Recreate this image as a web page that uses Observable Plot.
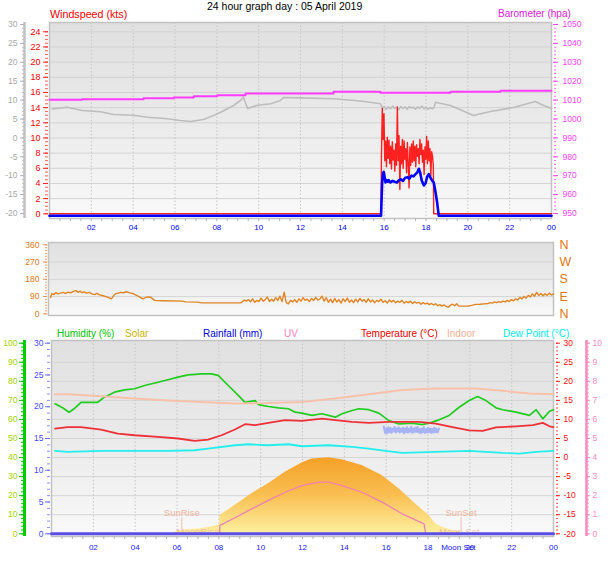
<!DOCTYPE html>
<html><head><meta charset="utf-8">
<script src="https://cdn.jsdelivr.net/npm/d3@7"></script>
<script src="https://cdn.jsdelivr.net/npm/@observablehq/plot@0.6"></script>
<style>
body{margin:0;background:#fff;font-family:"Liberation Sans",Arial,sans-serif;}
#root{position:relative;width:608px;height:561px;overflow:hidden;background:#fff;}
.layer{position:absolute;left:0;}
.layer svg{background:transparent !important;display:block;}
.lbl{position:absolute;white-space:nowrap;}
</style></head>
<body>
<svg width="0" height="0" style="position:absolute">
<defs>
<linearGradient id="bgGrad" x1="0" y1="0" x2="0" y2="1">
<stop offset="0" stop-color="#e0e0e0"/><stop offset="0.45" stop-color="#e9e9e9"/><stop offset="1" stop-color="#f9f9f9"/>
</linearGradient>
<linearGradient id="sunGrad" x1="0" y1="0" x2="0" y2="1">
<stop offset="0" stop-color="#f5a028"/><stop offset="0.5" stop-color="#f9bf52"/><stop offset="1" stop-color="#fff0a0"/>
</linearGradient>
</defs>
</svg>
<div id="root"></div>
<script>
// ---------- tick labels ----------
const hourTicks = [2,4,6,8,10,12,14,16,18,20,22,24];
const hourLabels = ["02","04","06","08","10","12","14","16","18","20","22","00"];
const windTicks = [0,2,4,6,8,10,12,14,16,18,20,22,24];
const grayTicks = [-20,-15,-10,-5,0,5,10,15,20,25,30];
const baroTicks = [950,960,970,980,990,1000,1010,1020,1030,1040,1050];
const dirTicks = [0,90,180,270,360];
const compassLabels = ["N","E","S","W","N"];
const humTicks = [0,10,20,30,40,50,60,70,80,90,100];
const rainTicks = [0,5,10,15,20,25,30];
const tempTicks = [-20,-15,-10,-5,0,5,10,15,20,25,30];
const uvTicks = [0,1,2,3,4,5,6,7,8,9,10];

// ---------- data: [hour, value] ----------
const pressure = [[0,1010.2],[1.56,1010.5],[4.5,1011.0],[5.94,1011.4],[6.9,1012.1],[8.02,1012.6],[9.37,1013.5],[13.58,1014.4],[15.82,1013.9],[19.17,1014.4],[21.56,1014.9],[24,1014.9]];

const tempTrace = [[0.13,7.65],[0.85,8.12],[1.56,7.25],[2.44,6.9],[3.06,6.19],[4.02,6.0],[4.69,5.48],[5.64,5.05],[6.26,4.6],[6.74,4.34],[7.36,4.87],[7.84,5.93],[8.18,6.8],[8.8,8.57],[9.13,9.89],[9.27,10.77],[9.47,7.78],[9.94,8.65],[10.57,9.02],[11.04,9.89],[11.19,10.69],[12.0,10.6],[13.58,10.34],[14.87,9.76],[15.82,9.02],[15.92,7.78],[16.0,8.3],[16.1,7.6],[16.2,8.2],[16.3,7.7],[16.4,8.4],[16.5,7.8],[16.6,8.1],[16.7,7.5],[16.8,8.3],[16.9,7.8],[17.0,8.2],[17.1,7.6],[17.2,8.3],[17.3,7.9],[17.4,8.1],[17.5,7.6],[17.6,8.2],[17.7,7.8],[17.8,8.4],[17.9,7.7],[18.0,8.1],[18.1,7.6],[18.2,8.0],[18.3,7.7],[18.38,8.0],[18.45,9.44],[19.17,8.57],[20.27,5.93],[21.08,6.98],[22.18,8.04],[23.23,9.63],[23.62,8.57],[24,7.78]];

const windGust = [[0,0],[15.85,0],[15.87,7.6],[15.91,13.9],[15.95,9.8],[15.99,13.2],[16.03,7.0],[16.07,9.6],[16.11,6.2],[16.15,10.1],[16.19,7.3],[16.23,9.7],[16.27,6.6],[16.31,8.9],[16.35,5.9],[16.39,9.5],[16.43,7.1],[16.47,8.4],[16.51,5.6],[16.55,9.2],[16.59,6.4],[16.63,14.1],[16.67,7.0],[16.71,10.3],[16.75,3.2],[16.79,8.9],[16.83,6.6],[16.87,9.8],[16.91,6.0],[16.95,9.6],[16.99,7.2],[17.03,8.6],[17.07,5.4],[17.11,9.4],[17.15,6.6],[17.19,3.4],[17.23,8.8],[17.27,6.4],[17.31,9.2],[17.35,6.8],[17.39,9.6],[17.43,7.0],[17.47,8.9],[17.51,6.2],[17.55,9.1],[17.59,7.6],[17.63,8.6],[17.67,6.6],[17.71,9.8],[17.75,7.8],[17.79,9.2],[17.83,6.8],[17.87,8.4],[17.91,5.2],[17.95,8.8],[17.99,7.2],[18.03,10.2],[18.07,6.6],[18.11,9.6],[18.15,7.0],[18.19,8.6],[18.23,5.0],[18.27,8.2],[18.31,7.6],[18.35,6.4],[18.37,0],[24,0]];

const windAvg = [[0,0],[15.85,0],[15.9,4.2],[15.94,5.6],[15.98,5.8],[16.03,5.0],[16.06,4.4],[16.12,4.7],[16.18,4.5],[16.22,4.7],[16.3,4.4],[16.4,4.6],[16.5,4.5],[16.62,4.4],[16.7,4.7],[16.8,4.8],[16.9,4.6],[17.0,5.0],[17.1,5.1],[17.2,4.9],[17.3,5.3],[17.4,5.2],[17.5,5.5],[17.58,5.7],[17.66,6.2],[17.72,5.7],[17.8,4.6],[17.9,4.0],[17.98,4.3],[18.06,5.2],[18.13,5.5],[18.2,5.1],[18.3,4.6],[18.37,4.4],[18.45,3.2],[18.53,1.8],[18.61,0],[24,0]];

const windDir = [[0.1,85],[0.15,105],[0.25,100],[0.35,110],[0.45,104],[0.57,108],[0.7,112],[0.8,106],[0.94,113],[1.05,109],[1.15,116],[1.31,121],[1.4,112],[1.5,118],[1.6,110],[1.69,115],[1.8,108],[1.95,112],[2.06,104],[2.2,100],[2.3,106],[2.43,99],[2.6,94],[2.8,87],[2.99,78],[3.1,95],[3.18,104],[3.3,108],[3.45,112],[3.55,110],[3.7,115],[3.8,112],[3.92,108],[4.0,106],[4.11,100],[4.3,90],[4.48,78],[4.6,84],[4.7,88],[4.86,86],[4.95,78],[5.04,70],[5.2,69],[5.42,68],[6.35,66],[6.53,62],[7.09,61],[7.28,57],[9.14,57],
[9.2,62],[9.3,72],[9.4,66],[9.5,74],[9.6,63],[9.7,78],[9.8,60],[9.9,70],[10.0,64],[10.1,82],[10.2,66],[10.3,74],[10.4,88],[10.5,64],[10.6,76],[10.7,66],[10.8,84],[10.9,70],[11.0,92],[11.1,64],[11.2,113],[11.3,58],[11.4,52],[11.5,70],[11.6,62],[11.7,74],[11.8,60],[11.9,78],[12.0,66],[12.1,84],[12.2,70],[12.3,76],[12.4,64],[12.5,80],[12.6,70],[12.7,86],[12.8,72],[12.9,78],[13.0,92],[13.1,66],[13.2,84],[13.3,60],[13.4,76],[13.5,58],[13.6,80],[13.7,62],[13.8,74],[13.9,56],[14.0,78],[14.1,64],[14.2,82],[14.3,60],[14.4,72],[14.5,58],[14.6,76],[14.7,62],[14.8,80],[14.9,66],[15.0,74],[15.1,60],[15.2,78],[15.3,62],[15.4,72],[15.5,58],[15.6,70],[15.7,64],[15.8,76],[15.9,60],[16.0,68],[16.1,56],[16.2,72],[16.3,62],[16.4,70],[16.5,58],[16.6,66],[16.7,60],[16.8,70],[16.9,56],[17.0,64],[17.1,58],[17.2,66],[17.3,54],[17.4,62],[17.5,56],[17.6,60],[17.7,50],[17.8,58],[17.9,52],[18.0,56],[18.1,48],[18.2,54],[18.3,46],[18.4,52],[18.5,42],[18.6,48],[18.7,40],[18.8,46],[18.9,38],[19.0,35],[19.1,44],[19.2,50],[19.3,42],[19.4,52],[19.5,40],[19.6,40],[19.8,40],[19.96,41],[20.1,44],[20.3,49],[20.5,50],[20.7,52],[20.9,54],[21.0,58],[21.1,56],[21.2,62],[21.3,58],[21.4,64],[21.5,60],[21.6,66],[21.7,62],[21.8,70],[21.9,64],[22.0,74],[22.1,68],[22.2,78],[22.3,72],[22.4,86],[22.5,78],[22.6,90],[22.7,82],[22.8,96],[22.9,88],[23.0,104],[23.1,92],[23.2,112],[23.3,96],[23.4,106],[23.5,94],[23.6,104],[23.7,96],[23.8,108],[23.9,98],[24.0,104]];

const humidity = [[0.17,68.2],[0.53,66.1],[0.84,63.8],[1.08,65.6],[1.41,69.0],[2.21,69.0],[2.53,71.7],[3.01,74.3],[3.49,75.5],[3.97,76.1],[4.45,77.8],[5.09,79.5],[5.57,80.8],[6.05,82.2],[6.53,83.4],[7.17,83.9],[7.65,83.9],[7.97,83.1],[8.45,77.8],[8.93,72.6],[9.25,69.0],[9.73,69.9],[9.89,67.8],[10.37,66.8],[10.85,66.1],[11.33,65.6],[11.65,63.8],[11.97,63.3],[12.45,62.1],[12.93,63.0],[13.57,61.2],[13.89,63.0],[14.37,64.7],[14.69,65.6],[15.17,65.1],[15.65,63.3],[16.13,59.4],[16.61,57.7],[17.25,58.0],[17.73,57.3],[18.21,58.6],[18.53,59.8],[19.01,62.1],[19.49,66.4],[19.97,69.9],[20.37,72.0],[20.77,69.9],[21.25,66.1],[21.57,65.1],[22.21,63.8],[22.85,62.1],[23.17,65.1],[23.49,60.3],[23.81,64.3],[24.0,65.1]];

const indoorTemp = [[0.17,16.6],[0.77,16.6],[2.37,16.1],[3.97,15.5],[5.57,15.0],[7.17,14.6],[8.77,14.2],[10.37,14.3],[11.97,14.6],[13.57,15.5],[15.17,16.6],[16.77,17.7],[18.37,18.1],[20.29,18.1],[21.57,17.5],[22.85,16.8],[24,16.6]];

const outdoorTemp = [[0.17,7.6],[0.77,8.0],[1.41,8.0],[2.37,7.35],[3.17,6.3],[3.97,5.85],[5.09,5.4],[6.05,5.0],[6.85,4.35],[7.49,4.7],[8.13,5.85],[8.77,7.35],[9.25,8.75],[9.73,8.5],[10.37,9.1],[11.17,9.8],[11.97,9.6],[12.93,10.2],[13.57,9.8],[14.37,9.35],[15.17,9.1],[16.13,9.35],[16.77,9.35],[17.57,9.35],[18.37,8.9],[19.17,8.0],[19.97,7.15],[20.61,7.0],[21.25,7.9],[22.21,8.2],[23.01,8.5],[23.49,9.1],[23.81,8.2],[24,8.0]];

const dewPoint = [[0.17,1.73],[0.77,1.47],[2.37,1.73],[3.97,1.73],[5.57,1.73],[6.85,1.92],[7.49,2.36],[8.77,3.23],[9.41,3.49],[10.37,3.23],[11.33,3.49],[11.97,2.97],[13.25,3.23],[14.37,2.78],[15.17,2.36],[15.97,1.73],[16.77,1.21],[18.37,1.47],[19.97,1.73],[21.57,1.21],[22.37,1.05],[23.17,1.47],[24,1.73]];

const chillTrace = [[15.89,8.1],[15.95,6.5],[16.0,7.6],[16.05,6.4],[16.1,7.9],[16.15,6.7],[16.2,7.8],[16.25,6.5],[16.3,7.5],[16.35,6.9],[16.4,8.0],[16.45,6.6],[16.5,7.6],[16.55,6.9],[16.6,7.9],[16.65,6.6],[16.7,7.5],[16.75,6.8],[16.8,7.8],[16.85,6.4],[16.9,7.6],[16.95,6.7],[17.0,7.9],[17.05,6.6],[17.1,7.5],[17.15,6.8],[17.2,8.0],[17.25,6.5],[17.3,7.6],[17.35,6.7],[17.4,7.8],[17.45,6.8],[17.5,8.0],[17.55,6.6],[17.6,7.5],[17.65,6.4],[17.7,7.6],[17.75,6.7],[17.8,7.9],[17.85,6.5],[17.9,7.4],[17.95,6.6],[18.0,7.8],[18.05,6.7],[18.1,7.6],[18.15,6.5],[18.2,7.5],[18.25,6.6],[18.3,7.8],[18.35,6.7],[18.4,7.5],[18.45,6.6],[18.53,7.6]];

const solar = [[5.8,0],[6.05,17],[7.17,26],[7.97,44],[8.04,44],[8.05,96],[8.77,148],[9.57,210],[10.37,262],[11.17,323],[11.97,371],[12.45,393],[13.25,399],[13.89,388],[14.85,358],[15.81,306],[16.61,236],[17.41,157],[18.05,96],[18.37,52],[18.69,35],[19.17,17],[19.65,8],[20.1,0]];

const uvIndex = [[0,0],[8.04,0],[8.05,0.44],[8.77,0.84],[9.57,1.31],[10.37,1.75],[11.17,2.18],[11.97,2.53],[12.77,2.71],[13.25,2.71],[13.89,2.53],[14.85,2.18],[15.81,1.66],[16.77,1.05],[17.81,0.52],[17.89,0],[24,0]];

const rainfall = [[0,0],[24,0]];

const sunEvents = [{hour:6.23, label:"SunRise", textLevel:10.8, lineFrom:1.5, lineTo:8.3},{hour:19.58, label:"SunSet", textLevel:10.8, lineFrom:1.5, lineTo:8.3}];
const moonEvents = [{hour:7.0, label:"MoonRise", level:1.0},{hour:19.5, label:"Moon Set", level:1.0}];
const moonAxisNote = [{hour:19.45, label:"Moon Set"}];

// ---------- helpers ----------
const root = document.getElementById("root");
const X = d => d[0], Y = d => d[1];
const blank = () => "";
const FONT = "background:transparent;font-family:'Liberation Sans',Arial,sans-serif;";
function layer(top, dims, yScale, marks) {
  const svg = Plot.plot({
    width: 608, height: dims.h,
    marginLeft: dims.ml, marginRight: dims.mr, marginTop: dims.mt, marginBottom: dims.mb,
    x: {domain: [0, 24], axis: null, label: null},
    y: {...yScale, axis: null, label: null},
    style: FONT,
    marks
  });
  const d = document.createElement("div");
  d.className = "layer"; d.style.top = top + "px";
  d.appendChild(svg); root.appendChild(d);
}
function label(text, left, top, size, color) {
  const s = document.createElement("div");
  s.className = "lbl"; s.textContent = text;
  s.style.left = left + "px"; s.style.top = top + "px";
  s.style.fontSize = size + "px"; s.style.lineHeight = size + "px"; s.style.color = color;
  root.appendChild(s);
}
const hourFmt = h => hourLabels[hourTicks.indexOf(h)];
const hourMinor = d3.range(0.5, 24, 0.5);

// ---------- panel 1: wind / barometer ----------
const P1 = {h: 240, ml: 49, mr: 57, mt: 22, mb: 22};
const windScale = {domain: [0, 24], range: [213.3, 31.3]};
const grayScale = {domain: [-20, 30], range: [213, 24]};
const baroScale = {domain: [950, 1050], range: [213, 24]};

layer(0, P1, windScale, [
  Plot.frame({fill: "url(#bgGrad)"}),
  Plot.gridY({ticks: windTicks.slice(1), stroke: "#d3d3d3", strokeOpacity: 1}),
  Plot.gridX({ticks: hourTicks.slice(0, -1), stroke: "#c6c6c6", strokeOpacity: 1, strokeDasharray: "1.5,2"}),
  Plot.frame({stroke: "#c2c2c2", strokeWidth: 1.5}),
  Plot.axisY({ticks: d3.range(0, 24.01, 0.5), anchor: "left", tickSize: 3, tickFormat: blank, stroke: "#ff5a5a", dx: -1, label: null}),
  Plot.axisY({ticks: windTicks, anchor: "left", tickSize: 5, tickPadding: 3, fontSize: 9, fill: "#ff0000", stroke: "#ff2020", dx: -1, tickFormat: d => String(d), label: null}),
  Plot.axisX({ticks: hourMinor, anchor: "bottom", tickSize: 3, tickFormat: blank, stroke: "#b4b4b4", label: null}),
  Plot.axisX({ticks: hourTicks, anchor: "bottom", tickSize: 0, tickPadding: 6, fontSize: 8, fill: "#0000ff", tickFormat: hourFmt, label: null})
]);

layer(0, P1, grayScale, [
  Plot.ruleX([0], {stroke: "#c2c2c2", strokeWidth: 2.5, dx: -25}),
  Plot.axisY({ticks: d3.range(-20, 30.01, 1), anchor: "left", tickSize: 2, tickFormat: blank, stroke: "#bcbcbc", dx: -25, label: null}),
  Plot.axisY({ticks: grayTicks, anchor: "left", tickSize: 4, tickPadding: 3, fontSize: 8.5, fill: "#a8a8a8", stroke: "#b4b4b4", dx: -25, tickFormat: d => String(d), label: null}),
  Plot.line(tempTrace, {x: X, y: Y, stroke: "#bdbdbd", strokeWidth: 1.6})
]);

layer(0, P1, baroScale, [
  Plot.axisY({ticks: d3.range(950, 1050.01, 2), anchor: "right", tickSize: 2, tickFormat: blank, stroke: "#ff66ff", dx: 2, label: null}),
  Plot.axisY({ticks: baroTicks, anchor: "right", tickSize: 5, tickPadding: 5, fontSize: 8.5, fill: "#ff44ff", stroke: "#ff44ff", dx: 1, tickFormat: d => String(d), label: null}),
  Plot.line(pressure, {x: X, y: Y, stroke: "#ff3cff", strokeWidth: 2, curve: "step-after"})
]);

layer(0, P1, windScale, [
  Plot.line(windGust, {x: X, y: Y, stroke: "#ff2020", strokeWidth: 1.4}),
  Plot.line(windAvg, {x: X, y: Y, stroke: "#0000ff", strokeWidth: 2.6, dy: 2})
]);

// ---------- panel 2: wind direction ----------
const P2 = {h: 100, ml: 48, mr: 55, mt: 12, mb: 15};
layer(230, P2, {domain: [0, 360], range: [83.3, 14.3]}, [
  Plot.frame({fill: "url(#bgGrad)"}),
  Plot.gridY({ticks: [90, 180, 270], stroke: "#d6d6d6", strokeOpacity: 1}),
  Plot.frame({stroke: "#c2c2c2", strokeWidth: 1.5}),
  Plot.axisY({ticks: d3.range(0, 360.01, 15), anchor: "left", tickSize: 2, tickFormat: blank, stroke: "#f0a060", dx: -1, label: null}),
  Plot.axisY({ticks: dirTicks, anchor: "left", tickSize: 4, tickPadding: 4, fontSize: 8.5, fill: "#e07818", stroke: "#f09050", dx: -1, tickFormat: d => String(d), label: null}),
  Plot.axisY({ticks: dirTicks, anchor: "right", tickSize: 0, tickPadding: 6, fontSize: 12.5, fill: "#e07810", tickFormat: d => compassLabels[dirTicks.indexOf(d)], label: null}),
  Plot.line(windDir, {x: X, y: Y, stroke: "#e08424", strokeWidth: 1.4})
]);

// ---------- panel 3: humidity / temps / solar ----------
const P3 = {h: 236, ml: 51, mr: 55, mt: 15, mb: 25};
const r3 = [208.3, 17.7];
layer(325, P3, {domain: [0, 100], range: r3}, [
  Plot.frame({fill: "url(#bgGrad)"}),
  Plot.gridY({ticks: humTicks.slice(1, -1), stroke: "#d5d5d5", strokeOpacity: 1}),
  Plot.gridX({ticks: hourTicks.slice(0, -1), stroke: "#c6c6c6", strokeOpacity: 1, strokeDasharray: "1.5,2"}),
  Plot.frame({stroke: "#c2c2c2", strokeWidth: 1.5}),
  Plot.ruleX([0], {stroke: "#00cc00", strokeWidth: 3, dx: -27}),
  Plot.axisY({ticks: d3.range(0, 100.01, 2), anchor: "left", tickSize: 3, tickFormat: blank, stroke: "#00c800", dx: -27, label: null}),
  Plot.axisY({ticks: humTicks, anchor: "left", tickSize: 5, tickPadding: 2, fontSize: 8.5, fill: "#a4d400", stroke: "#00c000", dx: -27, tickFormat: d => String(d), label: null}),
  Plot.axisX({ticks: hourMinor, anchor: "bottom", tickSize: 3, tickFormat: blank, stroke: "#b4b4b4", label: null}),
  Plot.axisX({ticks: hourTicks, anchor: "bottom", tickSize: 0, tickPadding: 8, fontSize: 8, fill: "#2020ff", tickFormat: hourFmt, label: null}),
  Plot.text(moonAxisNote, {x: "hour", text: "label", frameAnchor: "bottom", lineAnchor: "top", dy: 8, fontSize: 8, fill: "#2020ff"}),
  Plot.ruleX(sunEvents, {x: "hour", y1: "lineFrom", y2: "lineTo", stroke: "#f2bca8"}),
  Plot.text(sunEvents, {x: "hour", y: "textLevel", text: "label", fontSize: 9.5, fill: "#f0b49c"}),
  Plot.line(humidity, {x: X, y: Y, stroke: "#20cc20", strokeWidth: 1.7})
]);

layer(325, P3, {domain: [0, 1000], range: r3}, [
  Plot.areaY(solar, {x: X, y: Y, fill: "url(#sunGrad)"})
]);

layer(325, P3, {domain: [0, 100], range: r3}, [
  Plot.text(moonEvents, {x: "hour", y: "level", text: "label", fontSize: 9.5, fill: "#f0b49c", fillOpacity: 0.9})
]);

layer(325, P3, {domain: [0, 10], range: r3}, [
  Plot.ruleX([24], {stroke: "#ff88bb", strokeWidth: 2.5, dx: 33}),
  Plot.axisY({ticks: d3.range(0, 10.01, 0.2), anchor: "right", tickSize: 2, tickFormat: blank, stroke: "#ff9cc8", dx: 33, label: null}),
  Plot.axisY({ticks: uvTicks, anchor: "right", tickSize: 3, tickPadding: 3, fontSize: 8.5, fill: "#ff88c0", stroke: "#ff88bb", dx: 33, tickFormat: d => String(d), label: null}),
  Plot.line(uvIndex, {x: X, y: Y, stroke: "#f080b4", strokeWidth: 1.3})
]);

layer(325, P3, {domain: [0, 30], range: r3}, [
  Plot.axisY({ticks: d3.range(0, 30.01, 1), anchor: "left", tickSize: 3, tickFormat: blank, stroke: "#8c8cff", dx: -1, label: null}),
  Plot.axisY({ticks: rainTicks, anchor: "left", tickSize: 5, tickPadding: 2, fontSize: 8.5, fill: "#4848ff", stroke: "#7070ff", dx: -1, tickFormat: d => String(d), label: null}),
  Plot.line(rainfall, {x: X, y: Y, stroke: "#5a4ee6", strokeWidth: 3})
]);

layer(325, P3, {domain: [-20, 30], range: r3}, [
  Plot.axisY({ticks: d3.range(-20, 30.01, 1), anchor: "right", tickSize: 2, tickFormat: blank, stroke: "#ff4848", dx: 2, label: null}),
  Plot.axisY({ticks: tempTicks, anchor: "right", tickSize: 4, tickPadding: 4, fontSize: 8.5, fill: "#ff1010", stroke: "#ff2020", dx: 2, tickFormat: d => String(d), label: null}),
  Plot.line(indoorTemp, {x: X, y: Y, stroke: "#f8c2aa", strokeWidth: 2}),
  Plot.line(chillTrace, {x: X, y: Y, stroke: "#a8b2f6", strokeWidth: 2.2}),
  Plot.line(dewPoint, {x: X, y: Y, stroke: "#22eeee", strokeWidth: 1.8}),
  Plot.line(outdoorTemp, {x: X, y: Y, stroke: "#ee3038", strokeWidth: 1.8})
]);

// ---------- titles & legends ----------
label("24 hour graph day : 05 April 2019", 207, 1, 10.5, "#000");
label("Windspeed (kts)", 50, 9, 10.7, "#ff0000");
label("Barometer (hpa)", 498, 8.5, 10, "#e020e0");
label("Humidity (%)", 57, 328.5, 10, "#00c000");
label("Solar", 125, 328.5, 10, "#c8b400");
label("Rainfall (mm)", 203, 328.5, 10, "#0000dd");
label("UV", 284, 328.5, 10, "#ff80c0");
label("Temperature (°C)", 361, 328.5, 10, "#ee0000");
label("Indoor", 447, 328.5, 10, "#f4b090");
label("Dew Point (°C)", 503, 328.5, 10, "#00eeee");
</script>
</body></html>
